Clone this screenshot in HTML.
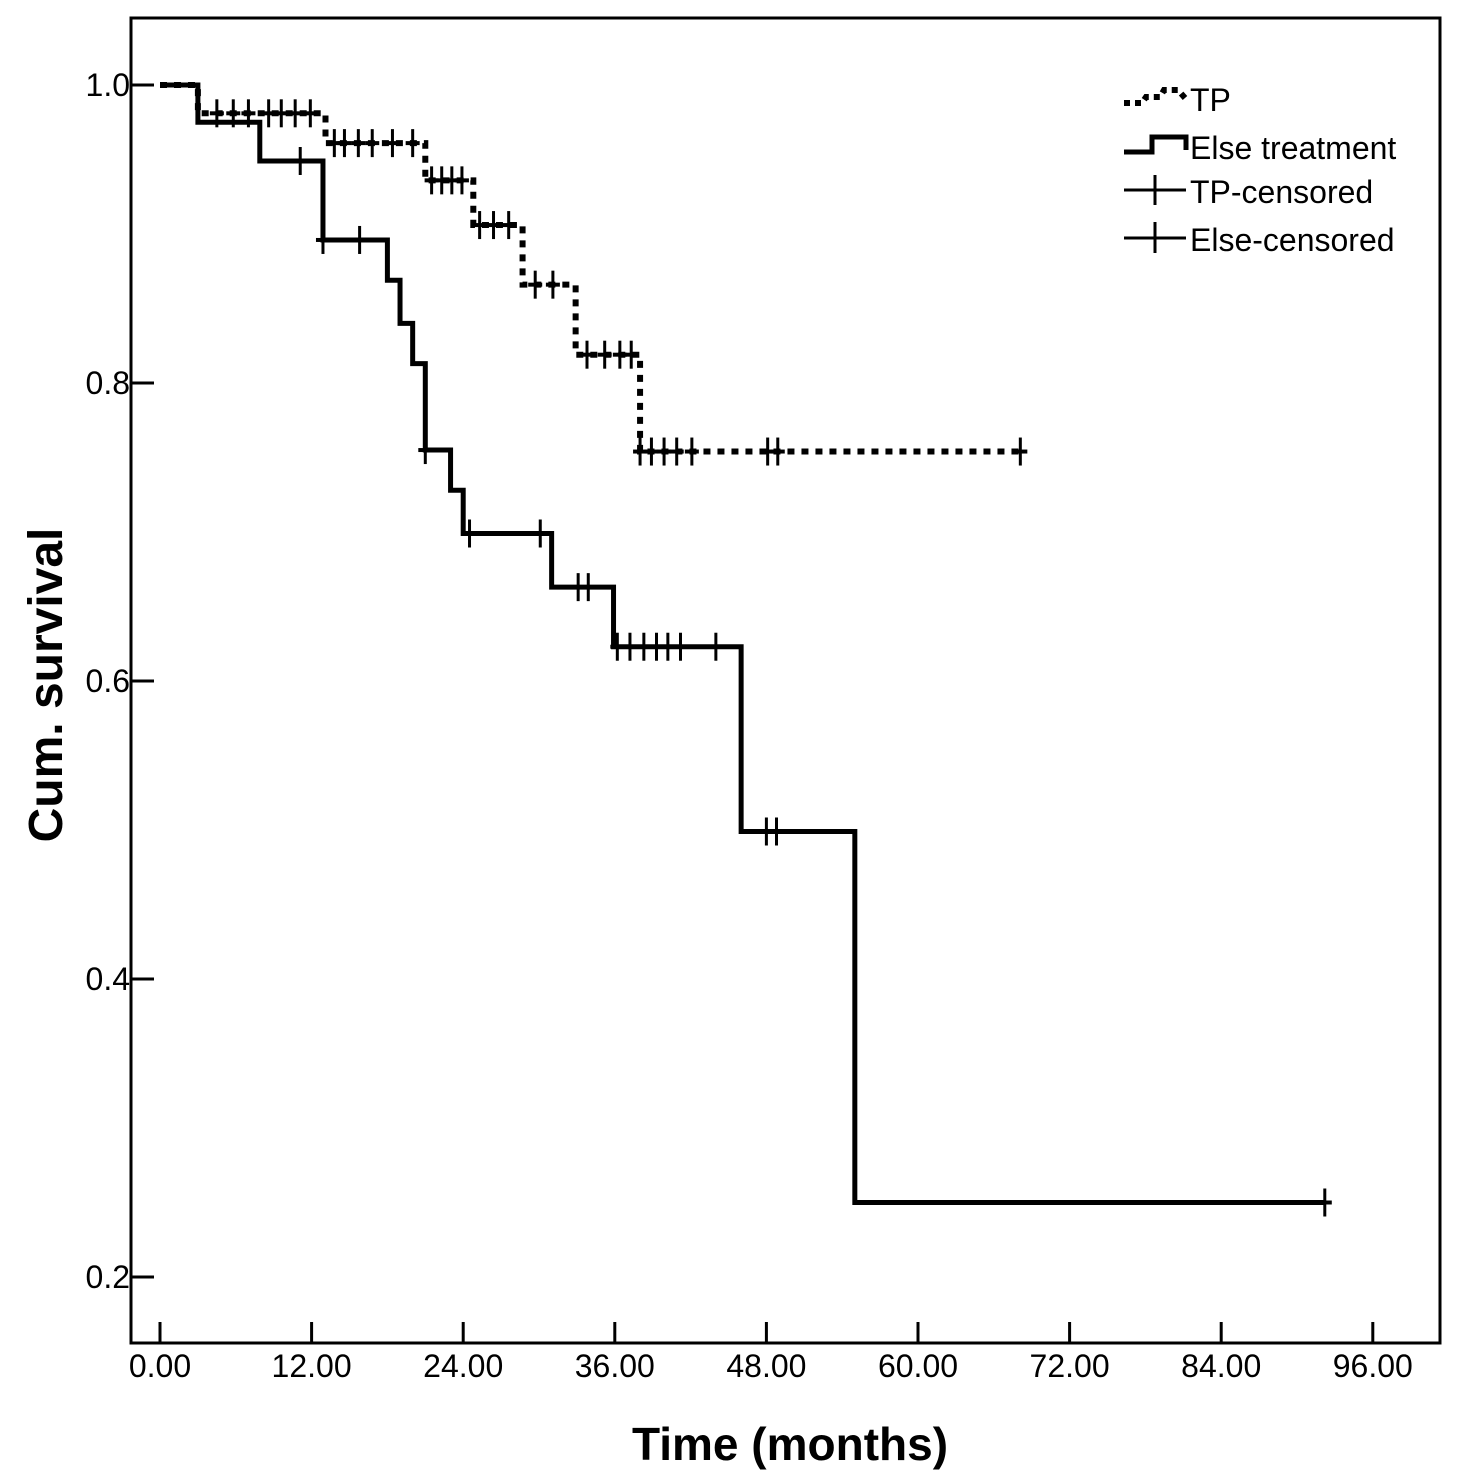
<!DOCTYPE html>
<html><head><meta charset="utf-8"><style>
html,body{margin:0;padding:0;background:#fff;}
svg{display:block;font-family:"Liberation Sans",Arial,sans-serif;}
</style></head><body>
<svg id="chart" width="1464" height="1470" viewBox="0 0 1464 1470">
<rect x="0" y="0" width="1464" height="1470" fill="#fff"/>
<g id="axes"></g>
<g id="series"></g>
<g id="legend">
  <polyline points="1124,103 1142,103 1146,97 1160,97 1164,90 1178,90 1185,98" fill="none" stroke="#000" stroke-width="6" stroke-dasharray="6 5"/>
  <text x="1190" y="111" font-size="32">TP</text>
  <polyline points="1124,152 1152,152 1152,137 1186,137 1186,150" fill="none" stroke="#000" stroke-width="5"/>
  <text x="1190" y="159" font-size="32">Else treatment</text>
  <line x1="1124" y1="190" x2="1186" y2="190" stroke="#000" stroke-width="3"/>
  <line x1="1155" y1="175" x2="1155" y2="205" stroke="#000" stroke-width="3"/>
  <text x="1190" y="203" font-size="32">TP-censored</text>
  <line x1="1124" y1="238" x2="1186" y2="238" stroke="#000" stroke-width="3"/>
  <line x1="1155" y1="222" x2="1155" y2="253" stroke="#000" stroke-width="3"/>
  <text x="1190" y="251" font-size="32">Else-censored</text>
</g>
<text x="790" y="1460" font-size="46" font-weight="bold" text-anchor="middle">Time (months)</text>
<text transform="translate(62,685) rotate(-90)" font-size="48" font-weight="bold" text-anchor="middle">Cum. survival</text>
</svg>
<script>
const xTicks = [0,12,24,36,48,60,72,84,96];
const yTicks = [0.2,0.4,0.6,0.8,1.0];
const tpTimes = [0,3.0,13.1,21.0,24.8,28.7,32.9,38.0];
const tpSurv = [1.0,0.981,0.961,0.936,0.906,0.866,0.819,0.754];
const tpEnd = 68.5;
const tpCensorT = [4.5,5.8,7.0,8.6,9.6,10.7,11.9,13.8,14.6,15.7,16.8,18.4,20.0,21.5,22.3,23.1,23.9,25.3,26.4,27.6,29.7,31.1,33.8,35.2,36.4,37.3,38.0,38.9,39.9,40.9,42.1,48.1,48.9,68.1];
const elseTimes = [0,3.0,7.9,12.9,18.0,19.0,20.0,21.0,23.0,24.0,31.0,35.9,46.0,55.0];
const elseSurv = [1.0,0.975,0.949,0.896,0.869,0.840,0.813,0.755,0.728,0.699,0.663,0.623,0.499,0.250];
const elseEnd = 92.2;
const elseCensorT = [11.1,12.9,15.8,21.0,24.5,30.1,33.1,33.9,36.2,37.2,38.3,39.3,40.2,41.2,44.0,48.0,48.8,92.2];

const X0=160, PXM=151.6/12, Y1=85, PXV=1490;
const sx = m => X0 + m*PXM;
const sy = v => Y1 + (1-v)*PXV;
const NS="http://www.w3.org/2000/svg";
function mk(tag, attrs, parent){const e=document.createElementNS(NS,tag);for(const k in attrs)e.setAttribute(k,attrs[k]);parent.appendChild(e);return e;}
const axes=document.getElementById('axes'), series=document.getElementById('series');

const frame=mk('rect',{x:131,y:18,width:1309,height:1325,fill:'none',stroke:'#000','stroke-width':3},axes);


xTicks.forEach(t=>{
  const l=mk('line',{x1:sx(t),x2:sx(t),y1:1343,y2:1322,stroke:'#000','stroke-width':3},axes);
  
  
  const tx=mk('text',{x:sx(t),y:1377,'font-size':32,'text-anchor':'middle'},axes);
  tx.textContent=t.toFixed(2);
  
  
});
yTicks.forEach(t=>{
  const l=mk('line',{x1:131,x2:154,y1:sy(t),y2:sy(t),stroke:'#000','stroke-width':3},axes);
  
  
  const tx=mk('text',{x:130,y:sy(t)+11,'font-size':32,'text-anchor':'end'},axes);
  tx.textContent=t.toFixed(1);
  
  
});

function stepPts(times,surv,end){
  let p=[];
  for(let i=0;i<times.length;i++){
    if(i>0) p.push(sx(times[i])+','+sy(surv[i-1]));
    p.push(sx(times[i])+','+sy(surv[i]));
  }
  p.push(sx(end)+','+sy(surv[surv.length-1]));
  return p.join(' ');
}
function survAt(times,surv,t){let v=surv[0];for(let i=0;i<times.length;i++){if(times[i]<=t)v=surv[i];}return v;}

const tpLine=mk('polyline',{points:stepPts(tpTimes,tpSurv,tpEnd),fill:'none',stroke:'#000','stroke-width':6,'stroke-dasharray':'7 7'},series);


const elLine=mk('polyline',{points:stepPts(elseTimes,elseSurv,elseEnd),fill:'none',stroke:'#000','stroke-width':5},series);



function censor(t,v,name){
  const g=mk('g',{},series);
  
  
  mk('line',{x1:sx(t),x2:sx(t),y1:sy(v)-14,y2:sy(v)+14,stroke:'#000','stroke-width':3},g);
  mk('line',{x1:sx(t)-7,x2:sx(t)+7,y1:sy(v),y2:sy(v),stroke:'#000','stroke-width':4},g);
}
tpCensorT.forEach(t=>censor(t,survAt(tpTimes,tpSurv,t),'tp-censor-mark'));
elseCensorT.forEach(t=>censor(t,survAt(elseTimes,elseSurv,t),'else-censor-mark'));
</script>
</body></html>
